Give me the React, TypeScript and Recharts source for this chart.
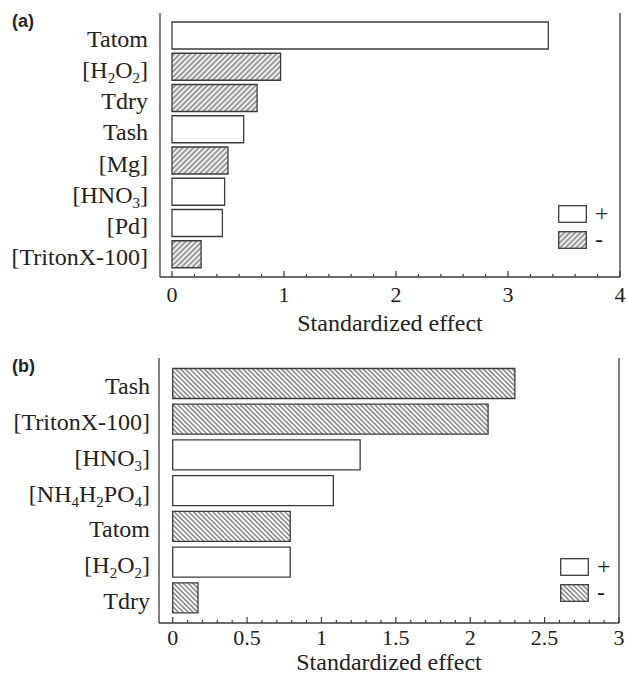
import React from 'react';
import { BarChart, Bar, XAxis, YAxis, Cell, Legend, ReferenceLine } from 'recharts';

// panel (a)
const categoriesA = ['Tatom', '[H2O2]', 'Tdry', 'Tash', '[Mg]', '[HNO3]', '[Pd]', '[TritonX-100]'];
const effectsA = [3.36, 0.97, 0.76, 0.64, 0.5, 0.47, 0.45, 0.26];
const signsA = ['+', '-', '-', '+', '-', '+', '+', '-'];
const majorTicksA = [0, 1, 2, 3, 4];

// panel (b)
const categoriesB = ['Tash', '[TritonX-100]', '[HNO3]', '[NH4H2PO4]', 'Tatom', '[H2O2]', 'Tdry'];
const effectsB = [2.3, 2.12, 1.26, 1.08, 0.79, 0.79, 0.17];
const signsB = ['-', '-', '+', '+', '-', '+', '-'];
const majorTicksB = [0, 0.5, 1, 1.5, 2, 2.5, 3];

const legendLabels = ['+', '-'];
const axisTitle = 'Standardized effect';

const SERIF = '"Liberation Serif", "Times New Roman", serif';
const SANS = '"Liberation Sans", Arial, sans-serif';
const INK = '#222';
const EDGE = '#3c3c3c';

const dataA = categoriesA.map((name, i) => ({ name, value: effectsA[i], sign: signsA[i] }));
const dataB = categoriesB.map((name, i) => ({ name, value: effectsB[i], sign: signsB[i] }));

// minor ticks between the labelled ones
const withMinor = (majors: number[], parts: number) => {
  const out: number[] = [];
  for (let i = 0; i < majors.length - 1; i++) {
    const step = (majors[i + 1] - majors[i]) / parts;
    for (let k = 0; k < parts; k++) out.push(+(majors[i] + k * step).toFixed(4));
  }
  out.push(majors[majors.length - 1]);
  return out;
};

// digits right after a letter are chemical subscripts
const splitLabel = (s: string) => {
  const parts: { text: string; sub: boolean }[] = [];
  for (let i = 0; i < s.length; i++) {
    const c = s[i];
    const sub = /\d/.test(c) && i > 0 && /[A-Za-z]/.test(s[i - 1]);
    const last = parts[parts.length - 1];
    if (last && last.sub === sub && !sub) last.text += c;
    else parts.push({ text: c, sub });
  }
  return parts;
};

const CategoryTick = (props: any) => {
  const { x, y, payload } = props;
  const parts = splitLabel(String(payload.value));
  return (
    <text x={x} y={y + 11} textAnchor="end" fontFamily={SERIF} fontSize={24} fill={INK}>
      {parts.map((p, i) =>
        p.sub ? (
          <tspan key={i} dy={5} fontSize={15}>{p.text}</tspan>
        ) : (
          <tspan key={i} dy={i > 0 && parts[i - 1].sub ? -5 : 0}>{p.text}</tspan>
        )
      )}
    </text>
  );
};

const makeXTick = (majors: number[], side: 'bottom' | 'top', labelDy: number) => (props: any) => {
  const { x, y, payload } = props;
  const major = majors.some((m) => Math.abs(m - payload.value) < 1e-6);
  const len = major ? 6 : 3;
  const dir = side === 'bottom' ? -1 : 1;
  return (
    <g>
      <line x1={x} x2={x} y1={y} y2={y + dir * len} stroke={EDGE} strokeWidth={1.2} />
      {side === 'bottom' && major && (
        <text x={x} y={y + labelDy} textAnchor="middle" fontFamily={SERIF} fontSize={22} fill={INK}>
          {payload.value}
        </text>
      )}
    </g>
  );
};

const LegendContent = ({ hatch }: { hatch: string }) => (
  <div style={{ display: 'flex', flexDirection: 'column', gap: 9 }}>
    {legendLabels.map((lab) => (
      <div key={lab} style={{ display: 'flex', alignItems: 'center', height: 17 }}>
        <svg width={29} height={18} style={{ display: 'block' }}>
          <rect x={0.7} y={0.7} width={27.6} height={16.6} fill={lab === '+' ? '#fff' : `url(#${hatch})`} stroke={EDGE} strokeWidth={1.3} />
        </svg>
        <span style={{ marginLeft: 8, fontFamily: SERIF, fontSize: 24, color: INK, lineHeight: '17px' }}>{lab}</span>
      </div>
    ))}
  </div>
);

type PanelProps = {
  data: { name: string; value: number; sign: string }[];
  majors: number[];
  minorParts: number;
  domainMin: number;
  height: number;
  top: number;
  right: number;
  yWidth: number;
  xHeight: number;
  barSize: number;
  pad: number;
  labelGap: number;
  tickDy: number;
  titleOffset: number;
  hatch: string;
  legendPos: { left: number; top: number };
};

const Panel = (p: PanelProps) => {
  const ticks = withMinor(p.majors, p.minorParts);
  const domain: [number, number] = [p.domainMin, p.majors[p.majors.length - 1]];
  return (
    <BarChart
      width={628}
      height={p.height}
      data={p.data}
      layout="vertical"
      margin={{ top: p.top, right: p.right, left: 0, bottom: 0 }}
    >
      <XAxis
        type="number"
        domain={domain}
        allowDataOverflow
        ticks={ticks}
        interval={0}
        height={p.xHeight}
        tickSize={0}
        tickMargin={0}
        tickLine={false}
        axisLine={{ stroke: EDGE, strokeWidth: 1.3 }}
        tick={makeXTick(p.majors, 'bottom', p.tickDy)}
        label={{ value: axisTitle, position: 'insideBottom', offset: p.titleOffset, style: { fontFamily: SERIF, fontSize: 24, fill: INK } }}
      />
      <XAxis
        xAxisId="top"
        orientation="top"
        type="number"
        domain={domain}
        allowDataOverflow
        ticks={ticks}
        interval={0}
        height={0}
        tickSize={0}
        tickMargin={0}
        tickLine={false}
        axisLine={{ stroke: EDGE, strokeWidth: 1.3 }}
        tick={makeXTick(p.majors, 'top', 0)}
      />
      <YAxis
        type="category"
        dataKey="name"
        width={p.yWidth}
        padding={{ top: p.pad, bottom: p.pad }}
        tickSize={0}
        tickMargin={p.labelGap}
        tickLine={false}
        interval={0}
        axisLine={{ stroke: EDGE, strokeWidth: 1.3 }}
        tick={<CategoryTick />}
      />
      <ReferenceLine x={domain[1]} stroke={EDGE} strokeWidth={1.3} />
      <Bar dataKey="value" barSize={p.barSize} stroke={EDGE} strokeWidth={1.3} isAnimationActive={false}>
        {p.data.map((d, i) => (
          <Cell key={i} fill={d.sign === '+' ? '#fff' : `url(#${p.hatch})`} />
        ))}
      </Bar>
      <Legend
        layout="horizontal"
        verticalAlign="middle"
        align="center"
        width={60}
        wrapperStyle={{ left: p.legendPos.left, top: p.legendPos.top, width: 60 }}
        content={() => <LegendContent hatch={p.hatch} />}
      />
    </BarChart>
  );
};

export default function App() {
  return (
    <div style={{ position: 'absolute', left: 0, top: 0, width: 628, height: 674, background: '#fff' }}>
      <svg width={0} height={0} style={{ position: 'absolute' }}>
        <defs>
          <pattern id="hatchA" patternUnits="userSpaceOnUse" width={3.8} height={3.8} patternTransform="rotate(45)">
            <rect width={3.8} height={3.8} fill="#f0f0f0" />
            <line x1={1.9} y1={0} x2={1.9} y2={3.8} stroke="#4a4a4a" strokeWidth={1} />
          </pattern>
          <pattern id="hatchB" patternUnits="userSpaceOnUse" width={3.4} height={3.4} patternTransform="rotate(-45)">
            <rect width={3.4} height={3.4} fill="#fff" />
            <line x1={1.7} y1={0} x2={1.7} y2={3.4} stroke="#444" strokeWidth={1} />
          </pattern>
        </defs>
      </svg>
      <div style={{ position: 'absolute', left: 12, top: 11, fontFamily: SANS, fontWeight: 'bold', fontSize: 18, color: INK }}>(a)</div>
      <div style={{ position: 'absolute', left: 0, top: 0 }}>
        <Panel
          data={dataA}
          majors={majorTicksA}
          minorParts={5}
          domainMin={-0.107}
          height={340}
          top={13}
          right={8}
          yWidth={160}
          xHeight={63}
          barSize={27}
          pad={7}
          labelGap={12}
          tickDy={25}
          titleOffset={9}
          hatch="hatchA"
          legendPos={{ left: 558, top: 205 }}
        />
      </div>
      <div style={{ position: 'absolute', left: 12, top: 356, fontFamily: SANS, fontWeight: 'bold', fontSize: 18, color: INK }}>(b)</div>
      <div style={{ position: 'absolute', left: 0, top: 340 }}>
        <Panel
          data={dataB}
          majors={majorTicksB}
          minorParts={5}
          domainMin={-0.092}
          height={334}
          top={18}
          right={9}
          yWidth={159}
          xHeight={51}
          barSize={30}
          pad={7.5}
          labelGap={9}
          tickDy={22}
          titleOffset={4}
          hatch="hatchB"
          legendPos={{ left: 560, top: 218 }}
        />
      </div>
    </div>
  );
}
